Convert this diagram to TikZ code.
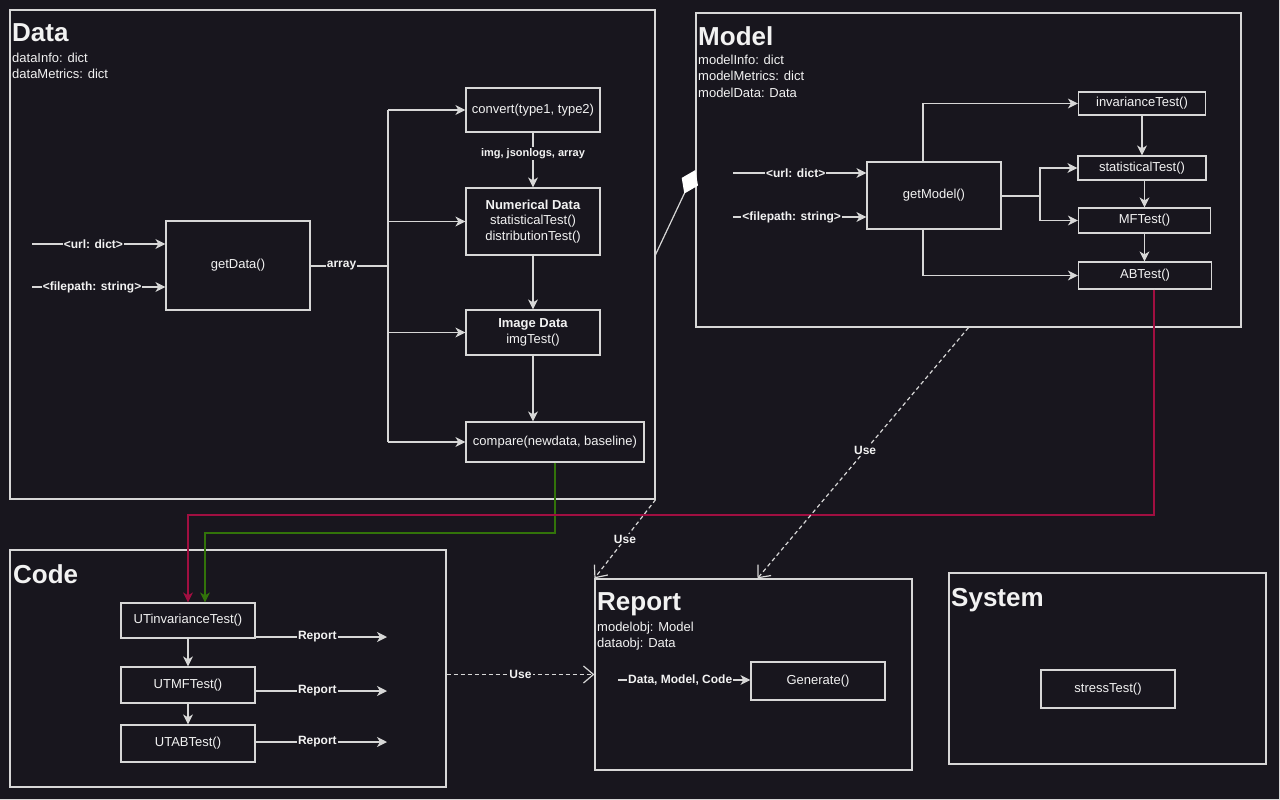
\documentclass[tikz,border=0pt]{standalone}
\usepackage{fontspec}
\setmainfont{Liberation Sans}
\usetikzlibrary{arrows.meta}
\definecolor{bg}{RGB}{24,22,30}
\definecolor{lc}{RGB}{215,215,215}
\definecolor{txt}{RGB}{242,242,242}
\definecolor{redc}{RGB}{160,15,65}
\definecolor{grnc}{RGB}{50,115,10}
\begin{document}
\begin{tikzpicture}[x=1pt,y=-1pt,
  every node/.style={text=txt},
  frame/.style={draw=lc, line width=1.2pt, inner sep=0pt, rectangle},
  fn/.style={draw=lc, line width=1.2pt, inner sep=0pt, align=center, font=\fontsize{13}{15.5}\selectfont},
  ln/.style={draw=lc, line width=1.2pt},
  con/.style={ln, -{Stealth[length=10pt,width=10pt,inset=3pt]}},
  colcon/.style={line width=1.2pt, -{Stealth[length=10pt,width=10pt,inset=3pt]}},
  lbl/.style={fill=bg, inner sep=1pt, font=\bfseries\fontsize{12}{14}\selectfont},
  ttl/.style={anchor=base west, inner sep=0pt, font=\bfseries\fontsize{26}{30}\selectfont},
  attr/.style={anchor=base west, inner sep=0pt, font=\fontsize{13}{15}\selectfont},
  use/.style={draw=lc, line width=1.2pt, dash pattern=on 4pt off 3pt, -{Straight Barb[length=10pt,width=17pt]}}
]
\useasboundingbox (0,0) rectangle (1280,800);
\fill[bg] (0,0) rectangle (1280,800);
\draw[lc, line width=1.5pt] (0,799.25) -- (1280,799.25);
\draw[lc, line width=1.5pt] (1279.25,0) -- (1279.25,800);

% ---------- frames ----------
\node[frame, minimum width=645pt, minimum height=489pt] (dataF) at (332.5,254.5) {};
\node[frame, minimum width=545pt, minimum height=314pt] (modelF) at (968.5,170) {};
\node[frame, minimum width=436pt, minimum height=237pt] (codeF) at (228,668.5) {};
\node[frame, minimum width=317pt, minimum height=191pt] (reportF) at (753.5,674.5) {};
\node[frame, minimum width=317pt, minimum height=191pt] (systemF) at (1107.5,668.5) {};

% ---------- titles and attributes ----------
\node[ttl] (dataT) at (12,42) {Data};
\node[attr] (dataA1) at (12,63) {dataInfo: dict};
\node[attr] (dataA2) at (12,78) {dataMetrics: dict};

\node[ttl] (modelT) at (698,46) {Model};
\node[attr] (modelA1) at (698,65) {modelInfo: dict};
\node[attr] (modelA2) at (698,81) {modelMetrics: dict};
\node[attr] (modelA3) at (698,97) {modelData: Data};

\node[ttl] (codeT) at (13,583) {Code};

\node[ttl] (reportT) at (597,610) {Report};
\node[attr] (reportA1) at (597,631.5) {modelobj: Model};
\node[attr] (reportA2) at (597,647) {dataobj: Data};

\node[ttl] (systemT) at (951,606) {System};

% ---------- Data ----------
\node[fn, minimum width=144pt, minimum height=89pt] (getData) at (238,265.5) {getData()};
\node[fn, minimum width=134pt, minimum height=44pt] (conv) at (533,110) {convert(type1, type2)};
\node[fn, minimum width=134pt, minimum height=67pt] (numer) at (533,221.5) {\textbf{Numerical Data}\\statisticalTest()\\distributionTest()};
\node[fn, minimum width=134pt, minimum height=45pt] (imgd) at (533,332.5) {\textbf{Image Data}\\imgTest()};
\node[fn, minimum width=178pt, minimum height=40pt] (cmp) at (555,442) {compare(newdata, baseline)};

\coordinate (du) at (32,244);
\coordinate (df) at (32,287);
\draw[con] (du) -- (du -| getData.west) node[lbl,pos=0.46]{<url: dict>};
\draw[con] (df) -- (df -| getData.west) node[lbl,pos=0.45]{<filepath: string>};
\coordinate (trunk) at (388,266);
\draw[ln] (getData.east |- trunk) -- (trunk) node[lbl,pos=0.4]{array};
\draw[ln] (trunk |- conv.west) -- (trunk |- cmp.west);
\foreach \n in {conv,numer,imgd,cmp} \draw[con] (trunk |- \n.west) -- (\n.west);
\draw[con] (conv.south) -- (numer.north) node[lbl,pos=0.38,font=\bfseries\fontsize{11}{13}\selectfont]{img, jsonlogs, array};
\draw[con] (numer.south) -- (imgd.north);
\draw[con] (imgd.south) -- (imgd.south |- cmp.north);

% ---------- Model ----------
\node[fn, minimum width=134pt, minimum height=67pt] (getModel) at (934,195.5) {getModel()};
\node[fn, minimum width=127pt, minimum height=23pt] (invar) at (1142,103.5) {invarianceTest()};
\node[fn, minimum width=128pt, minimum height=24pt] (stat) at (1142,168) {statisticalTest()};
\node[fn, minimum width=132pt, minimum height=25pt] (mf) at (1144.5,220.5) {MFTest()};
\node[fn, minimum width=133pt, minimum height=27pt] (ab) at (1145,275.5) {ABTest()};

\coordinate (mu) at (733,173);
\coordinate (mfp) at (733,217);
\draw[con] (mu) -- (mu -| getModel.west) node[lbl,pos=0.47]{<url: dict>};
\draw[con] (mfp) -- (mfp -| getModel.west) node[lbl,pos=0.44]{<filepath: string>};
\draw[con] ([xshift=-11pt]getModel.north) |- (invar.west);
\draw[con] ([xshift=-11pt]getModel.south) |- (ab.west);
\coordinate (mj) at (1040,196);
\draw[ln] (getModel.east |- mj) -- (mj);
\draw[con] (mj) |- (stat.west);
\draw[con] (mj) |- (mf.west);
\draw[con] (invar.south) -- (invar.south |- stat.north);
\draw[con] (stat.south -| mf.north) -- (mf.north);
\draw[con] (mf.south) -- (mf.south |- ab.north);

% aggregation Data -> Model
\draw[ln, -{Diamond[length=26pt,width=18pt,fill=white,color=white]}] (dataF.east) -- (modelF.west);

% ---------- Code ----------
\node[fn, minimum width=134pt, minimum height=35pt] (utinv) at (188,620.5) {UTinvarianceTest()};
\node[fn, minimum width=134pt, minimum height=36pt] (utmf) at (188,685) {UTMFTest()};
\node[fn, minimum width=134pt, minimum height=37pt] (utab) at (188,743.5) {UTABTest()};
\draw[con] (utinv.south) -- (utmf.north);
\draw[con] (utmf.south) -- (utab.north);
\coordinate (r1) at (387,637);
\coordinate (r2) at (387,691);
\coordinate (r3) at (387,742);
\draw[con] (utinv.east |- r1) -- (r1) node[lbl,pos=0.47]{Report};
\draw[con] (utmf.east |- r2) -- (r2) node[lbl,pos=0.47]{Report};
\draw[con] (utab.east |- r3) -- (r3) node[lbl,pos=0.47]{Report};

% ---------- Report / System ----------
\node[fn, minimum width=134pt, minimum height=38pt] (gen) at (818,681) {Generate()};
\coordinate (g0) at (618,680);
\draw[con] (g0) -- (g0 -| gen.west) node[lbl,pos=0.47]{Data, Model, Code};
\node[fn, minimum width=134pt, minimum height=38pt] (stress) at (1108,689) {stressTest()};

% ---------- colored links ----------
\coordinate (gy) at (0,533);
\coordinate (ge) at ([xshift=17pt]utinv.north);
\draw[grnc, colcon] (cmp.south) |- (ge |- gy) -- (ge);
\coordinate (ry) at (0,515);
\coordinate (rs) at ([xshift=9pt]ab.south);
\draw[redc, colcon] (rs) |- (utinv.north |- ry) -- (utinv.north);

% ---------- Use dependencies ----------
\draw[use] (codeF.east |- reportF.west) -- (reportF.west) node[lbl,pos=0.5]{Use};
\draw[use] (dataF.south east) -- (reportF.north west) node[lbl,pos=0.5]{Use};
\draw[use] (modelF.south) -- ([xshift=4pt]reportF.north) node[lbl,pos=0.49]{Use};
\end{tikzpicture}
\end{document}
